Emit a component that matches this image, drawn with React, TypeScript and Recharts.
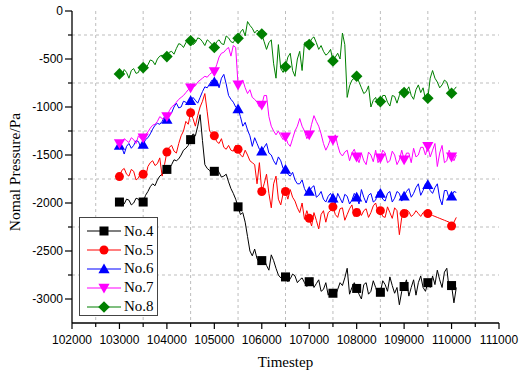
import { LineChart, Line, XAxis, YAxis, CartesianGrid, Legend, Label } from "recharts";

// sampled every 100 steps
const steps = [
  103000, 103100, 103200, 103300, 103400, 103500, 103600, 103700, 103800, 103900,
  104000, 104100, 104200, 104300, 104400, 104500, 104600, 104700, 104800, 104900,
  105000, 105100, 105200, 105300, 105400, 105500, 105600, 105700, 105800, 105900,
  106000, 106100, 106200, 106300, 106400, 106500, 106600, 106700, 106800, 106900,
  107000, 107100, 107200, 107300, 107400, 107500, 107600, 107700, 107800, 107900,
  108000, 108100, 108200, 108300, 108400, 108500, 108600, 108700, 108800, 108900,
  109000, 109100, 109200, 109300, 109400, 109500, 109600, 109700, 109800, 109900,
  110000, 110100,
];

// in-between samples (x050)
const midSteps = [
  103050, 103150, 103250, 103350, 103450, 103550, 103650, 103750, 103850, 103950,
  104050, 104150, 104250, 104350, 104450, 104550, 104650, 104750, 104850, 104950,
  105050, 105150, 105250, 105350, 105450, 105550, 105650, 105750, 105850, 105950,
  106050, 106150, 106250, 106350, 106450, 106550, 106650, 106750, 106850, 106950,
  107050, 107150, 107250, 107350, 107450, 107550, 107650, 107750, 107850, 107950,
  108050, 108150, 108250, 108350, 108450, 108550, 108650, 108750, 108850, 108950,
  109050, 109150, 109250, 109350, 109450, 109550, 109650, 109750, 109850, 109950,
  110050,
];

const no4 = [
  -1990, -2010, -1970, -2000, -1960, -1990, -1880, -1800, -1760, -1700,
  -1650, -1600, -1560, -1500, -1430, -1340, -1300, -1080, -1600, -1660,
  -1670, -1680, -1720, -1780, -1900, -2040, -2100, -2350, -2550, -2580,
  -2600, -2650, -2540, -2680, -2780, -2770, -2790, -2760, -2800, -2830,
  -2820, -2880, -2800, -2900, -2960, -2940, -2900, -2860, -2680, -2880,
  -2890, -3000, -2830, -2920, -2880, -2930, -2850, -2770, -2940, -3060,
  -2870, -2970, -2800, -2830, -2880, -2830, -2760, -2700, -2880, -2680,
  -2860, -2880,
];
const no4Mid = [
  -2030, -1960, -2020, -1950, -2000, -1920, -1830, -1820, -1720, -1680,
  -1640, -1550, -1540, -1450, -1400, -1280, -1200, -1350, -1640, -1700,
  -1640, -1730, -1700, -1850, -1960, -2120, -2200, -2500, -2480, -2620,
  -2590, -2700, -2600, -2750, -2740, -2820, -2740, -2830, -2780, -2870,
  -2780, -2840, -2920, -2830, -2900, -2970, -2830, -2780, -2950, -2830,
  -2950, -2850, -2950, -2810, -2960, -2810, -2920, -2860, -2880, -2920,
  -2800, -2880, -2960, -2760, -2920, -2880, -2850, -2800, -2720, -2900,
  -3040,
];

const no5 = [
  -1725, -1640, -1720, -1670, -1740, -1700, -1620, -1560, -1590, -1720,
  -1470, -1400, -1480, -1300, -1150, -1060, -1200, -1000, -860, -1250,
  -1300, -1380, -1420, -1400, -1460, -1440, -1520, -1500, -1580, -1800,
  -1880, -1700, -2050, -1720, -2020, -1880, -1860, -1980, -2100, -2170,
  -2160, -2100, -2270, -2080, -2100, -2040, -2150, -2050, -2120, -2020,
  -2100, -2130, -2060, -2100, -2000, -2080, -2150, -2100, -2050, -2330,
  -2110, -2090, -2120, -2110, -2100, -2110, -2130, -2150, -2170, -2190,
  -2240, -2150,
];
const no5Mid = [
  -1660, -1700, -1650, -1760, -1680, -1730, -1580, -1610, -1530, -1600,
  -1420, -1460, -1380, -1250, -1180, -1120, -1090, -940, -1050, -1280,
  -1360, -1330, -1440, -1450, -1400, -1500, -1450, -1560, -1600, -1580,
  -1800, -1900, -1800, -1960, -1900, -1960, -1940, -2050, -2000, -2080,
  -2240, -2180, -2120, -2200, -2080, -2120, -2060, -2180, -2060, -2140,
  -2060, -2080, -2150, -2030, -2090, -2140, -2040, -2160, -2080, -2150,
  -2070, -2140, -2080, -2140, -2080, -2120, -2140, -2160, -2180, -2200,
  -2200,
];

const no6 = [
  -1400, -1490, -1380, -1400, -1360, -1390, -1320, -1230, -1170, -1150,
  -1130, -1060, -960, -1000, -950, -935, -930, -900, -790, -760,
  -740, -800, -660, -880, -950, -1020, -1200, -1240, -1410, -1380,
  -1460, -1380, -1500, -1600, -1560, -1650, -1720, -1760, -1800, -1850,
  -1880, -1820, -1920, -1960, -1930, -1950, -1900, -2000, -1930, -1970,
  -1940, -1860, -2000, -1900, -1970, -1900, -1980, -1880, -1950, -1900,
  -1930, -1850, -1900, -1800, -1870, -1810, -1900, -1800, -2020, -1870,
  -1930, -1890,
];
const no6Mid = [
  -1420, -1410, -1430, -1350, -1420, -1340, -1280, -1190, -1180, -1100,
  -1080, -1000, -1010, -940, -980, -900, -960, -840, -800, -720,
  -720, -700, -760, -920, -1000, -1100, -1160, -1300, -1320, -1440,
  -1420, -1480, -1560, -1520, -1640, -1700, -1680, -1800, -1760, -1900,
  -1840, -1940, -1880, -1990, -1900, -2010, -1950, -1910, -2010, -1900,
  -2010, -1940, -1920, -1990, -1880, -1960, -1900, -1990, -1880, -1980,
  -1880, -1940, -1840, -1920, -1800, -1870, -1840, -1950, -1870, -1960,
  -1880,
];

const no7 = [
  -1380, -1330, -1370, -1340, -1300, -1320, -1260, -1190, -1150, -1120,
  -1100, -1000, -950, -900, -850, -800, -780, -720, -680, -660,
  -630, -480, -430, -380, -360, -770, -720, -860, -900, -950,
  -980, -880, -1200, -1290, -1300, -1310, -1410, -1250, -1120, -1250,
  -1290, -1090, -1200, -1380, -1400, -1345, -1400, -1510, -1450, -1480,
  -1520, -1480, -1600, -1500, -1450, -1530, -1480, -1560, -1500, -1550,
  -1550, -1480, -1430, -1500, -1420, -1410, -1450, -1620, -1400, -1560,
  -1520, -1500,
];
const no7Mid = [
  -1360, -1350, -1320, -1380, -1330, -1290, -1220, -1180, -1100, -1130,
  -1040, -980, -920, -880, -820, -790, -740, -700, -690, -640,
  -560, -440, -400, -470, -380, -740, -800, -820, -920, -1000,
  -880, -1100, -1250, -1250, -1340, -1380, -1330, -1200, -1200, -1330,
  -1180, -1150, -1280, -1450, -1330, -1290, -1480, -1470, -1560, -1440,
  -1580, -1560, -1470, -1570, -1580, -1450, -1580, -1460, -1600, -1450,
  -1480, -1580, -1520, -1420, -1500, -1520, -1380, -1480, -1580, -1450,
  -1560,
];

const no8 = [
  -655, -610, -700, -600, -640, -590, -560, -520, -500, -460,
  -475, -420, -390, -350, -330, -310, -330, -290, -360, -320,
  -380, -300, -350, -280, -330, -285, -190, -110, -180, -200,
  -240, -400, -300, -700, -600, -580, -440, -680, -420, -330,
  -350, -270, -400, -420, -440, -520, -440, -230, -900, -720,
  -680, -800, -840, -1000, -900, -944, -880, -990, -890, -880,
  -850, -790, -920, -770, -800, -909, -620, -740, -770, -740,
  -857, -790,
];
const no8Mid = [
  -680, -640, -620, -650, -570, -600, -510, -560, -470, -500,
  -430, -450, -340, -380, -300, -350, -280, -320, -300, -350,
  -320, -340, -260, -320, -280, -220, -260, -150, -230, -220,
  -320, -330, -550, -350, -640, -480, -620, -500, -620, -320,
  -290, -330, -360, -460, -400, -480, -500, -350, -780, -700,
  -740, -860, -780, -930, -980, -880, -950, -880, -960, -820,
  -830, -880, -820, -850, -920, -700, -700, -800, -720, -820,
  -820,
];

const xTicks = [
  102000, 102500, 103000, 103500, 104000, 104500, 105000, 105500, 106000,
  106500, 107000, 107500, 108000, 108500, 109000, 109500, 110000, 110500, 111000,
];
const yTicks = [
  0, -250, -500, -750, -1000, -1250, -1500, -1750, -2000, -2250, -2500,
  -2750, -3000,
];
const xGrid = [
  102500, 103500, 104500, 105500, 106500, 107500, 108500, 109500, 110500,
];
const yGrid = [-250, -750, -1250, -1750, -2250, -2750];

const series = [
  { key: "no4", name: "No.4", color: "#000000", shape: "square" },
  { key: "no5", name: "No.5", color: "#ff0000", shape: "circle" },
  { key: "no6", name: "No.6", color: "#0000ff", shape: "up" },
  { key: "no7", name: "No.7", color: "#ff00ff", shape: "down" },
  { key: "no8", name: "No.8", color: "#008000", shape: "diamond" },
];

const data: any[] = [];
steps.forEach((t, i) => {
  data.push({ t, no4: no4[i], no5: no5[i], no6: no6[i], no7: no7[i], no8: no8[i] });
  if (i < midSteps.length) {
    data.push({
      t: midSteps[i],
      no4: no4Mid[i],
      no5: no5Mid[i],
      no6: no6Mid[i],
      no7: no7Mid[i],
      no8: no8Mid[i],
    });
  }
});

const sans = "'Liberation Sans', Arial, sans-serif";
const serif = "'Liberation Serif', 'Times New Roman', serif";

function shapeEl(shape: string, cx: number, cy: number, color: string, key?: any) {
  const s = 4.5;
  if (shape === "square")
    return <rect key={key} x={cx - s} y={cy - s} width={s * 2} height={s * 2} fill={color} />;
  if (shape === "circle") return <circle key={key} cx={cx} cy={cy} r={s} fill={color} />;
  if (shape === "up")
    return (
      <polygon
        key={key}
        points={`${cx},${cy - 5.5} ${cx + 5.6},${cy + 4.3} ${cx - 5.6},${cy + 4.3}`}
        fill={color}
      />
    );
  if (shape === "down")
    return (
      <polygon
        key={key}
        points={`${cx},${cy + 5.5} ${cx + 5.6},${cy - 4.3} ${cx - 5.6},${cy - 4.3}`}
        fill={color}
      />
    );
  return (
    <polygon
      key={key}
      points={`${cx},${cy - 5.8} ${cx + 5.8},${cy} ${cx},${cy + 5.8} ${cx - 5.8},${cy}`}
      fill={color}
    />
  );
}

const makeDot = (shape: string, color: string) => (props: any) => {
  const { cx, cy, payload, index } = props;
  if (cx == null || cy == null || payload.t % 500 !== 0) return <g key={index} />;
  return shapeEl(shape, cx, cy, color, index);
};

function XTick(props: any) {
  const { x, y, payload } = props;
  const major = payload.value % 1000 === 0;
  return (
    <g>
      <line x1={x} y1={y} x2={x} y2={y + (major ? 6 : 4)} stroke="#000" strokeWidth={1.2} />
      {major && (
        <text x={x} y={y + 21} textAnchor="middle" fontFamily={sans} fontSize={12} fill="#000">
          {payload.value}
        </text>
      )}
    </g>
  );
}

function YTick(props: any) {
  const { x, y, payload } = props;
  const major = payload.value % 500 === 0;
  return (
    <g>
      <line x1={x - (major ? 7 : 4)} y1={y} x2={x} y2={y} stroke="#000" strokeWidth={1.2} />
      {major && (
        <text x={x - 9} y={y + 4} textAnchor="end" fontFamily={sans} fontSize={12} fill="#000">
          {payload.value}
        </text>
      )}
    </g>
  );
}

function LegendBox() {
  return (
    <div
      style={{
        width: 79,
        height: 99,
        border: "1px solid #444",
        boxSizing: "border-box",
        background: "#fff",
        paddingTop: 4,
      }}
    >
      {series.map((s) => (
        <div key={s.key} style={{ display: "flex", alignItems: "center", height: 18.8 }}>
          <svg width={44} height={14} style={{ display: "block" }}>
            <line x1={7} y1={7} x2={41} y2={7} stroke={s.color} strokeWidth={1.2} />
            {shapeEl(s.shape, 24, 7, s.color)}
          </svg>
          <span style={{ fontFamily: serif, fontSize: 15, color: "#000", lineHeight: "15px" }}>
            {s.name}
          </span>
        </div>
      ))}
    </div>
  );
}

export default function App() {
  return (
    <div style={{ position: "absolute", left: 0, top: 0, background: "#fff" }}>
      <LineChart
        width={519}
        height={376}
        data={data}
        margin={{ top: 11, right: 20, left: 12, bottom: 23 }}
      >
        <CartesianGrid
          horizontalValues={yGrid}
          verticalValues={xGrid}
          stroke="#bdbdbd"
          strokeDasharray="3 3"
        />
        <XAxis
          dataKey="t"
          type="number"
          domain={[102000, 111000]}
          ticks={xTicks}
          interval={0}
          height={30}
          tickSize={0}
          tickMargin={0}
          tick={<XTick />}
          axisLine={{ stroke: "#000", strokeWidth: 1.3 }}
        >
          <Label
            content={() => (
              <text x={285.5} y={367} textAnchor="middle" fontFamily={serif} fontSize={15} fill="#000">
                Timestep
              </text>
            )}
          />
        </XAxis>
        <YAxis
          type="number"
          domain={[-3250, 0]}
          ticks={yTicks}
          interval={0}
          width={60}
          tickSize={0}
          tickMargin={0}
          tick={<YTick />}
          axisLine={{ stroke: "#000", strokeWidth: 1.3 }}
        >
          <Label
            content={() => (
              <text
                x={14}
                y={172}
                transform="rotate(-90 14 172)"
                textAnchor="middle"
                dominantBaseline="central"
                fontFamily={serif}
                fontSize={15.5}
                fill="#000"
              >
                Nomal Pressure/Pa
              </text>
            )}
          />
        </YAxis>
        <Legend
          layout="vertical"
          align="center"
          verticalAlign="middle"
          content={<LegendBox />}
          wrapperStyle={{ left: 79, top: 217, width: 79, height: 99 }}
        />
        {series.map((s) => (
          <Line
            key={s.key}
            dataKey={s.key}
            name={s.name}
            type="linear"
            stroke={s.color}
            strokeWidth={1}
            dot={makeDot(s.shape, s.color)}
            activeDot={false}
            isAnimationActive={false}
          />
        ))}
      </LineChart>
    </div>
  );
}
